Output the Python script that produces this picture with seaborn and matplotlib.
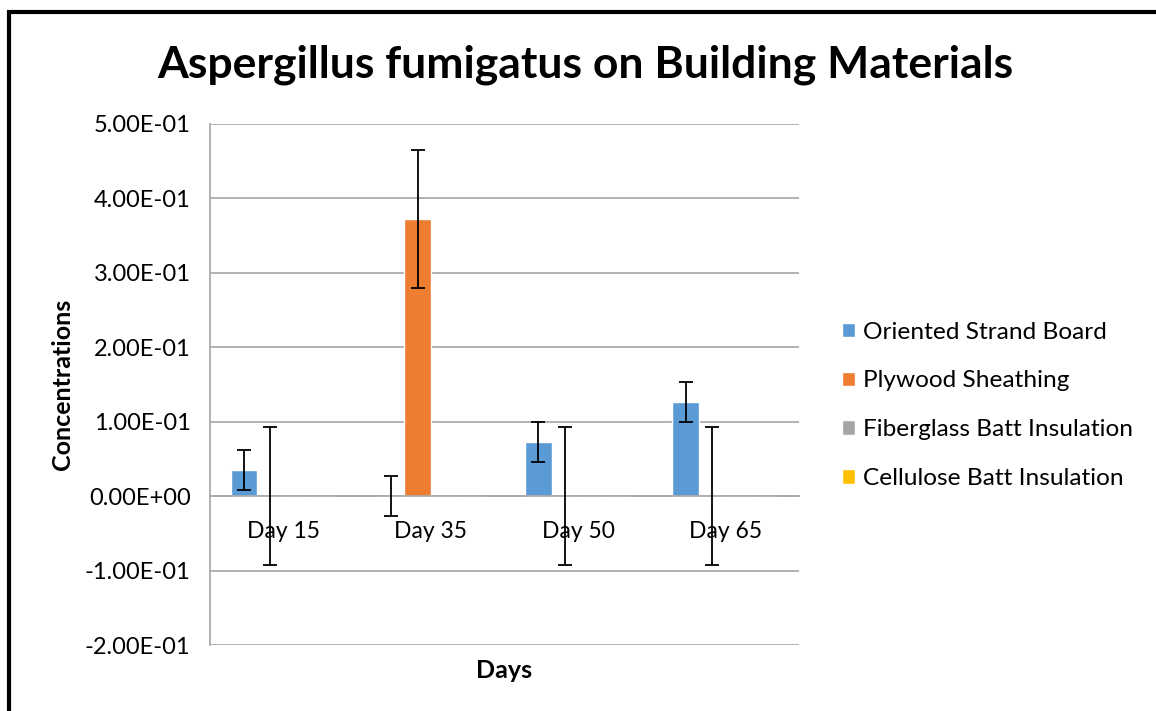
import matplotlib
matplotlib.use("Agg")
import matplotlib.pyplot as plt
from matplotlib.patches import Rectangle
from matplotlib.ticker import FixedLocator, FuncFormatter
import seaborn as sns
import pandas as pd
import numpy as np

days = ["Day 15", "Day 35", "Day 50", "Day 65"]
materials = ["Oriented Strand Board", "Plywood Sheathing",
             "Fiberglass Batt Insulation", "Cellulose Batt Insulation"]
osb = [0.035, 0.0, 0.073, 0.126]
plywood = [0.0, 0.372, 0.0, 0.0]
fiberglass = [0.0, 0.0, 0.0, 0.0]
cellulose = [0.0, 0.0, 0.0, 0.0]
osb_err = [0.027, 0.027, 0.027, 0.027]
plywood_err = [0.093, 0.093, 0.093, 0.093]
colors = ["#5B9BD5", "#ED7D31", "#A5A5A5", "#FFC000"]

series = [osb, plywood, fiberglass, cellulose]
errors = [osb_err, plywood_err, None, None]

rows = []
for m, vals in zip(materials, series):
    for d, v in zip(days, vals):
        rows.append({"Days": d, "Material": m, "Concentration": v})
df = pd.DataFrame(rows)

sns.set_style("white")
plt.rcParams["font.family"] = ["Lato", "DejaVu Sans"]
plt.rcParams["text.color"] = "black"
plt.rcParams["axes.labelcolor"] = "black"
plt.rcParams["xtick.labelcolor"] = "black"
plt.rcParams["ytick.labelcolor"] = "black"

fig = plt.figure(figsize=(11.56, 7.11), dpi=100)
ax = fig.add_axes([0.1817, 0.0928, 0.5095, 0.7328])

sns.barplot(data=df, x="Days", y="Concentration", hue="Material",
            hue_order=materials, order=days, palette=colors,
            errorbar=None, width=0.72, dodge=True, ax=ax, saturation=1)

# error bars from drawn bar positions
patches = [p for p in ax.patches]
n = len(days)
for si, (vals, err) in enumerate(zip(series, errors)):
    if err is None:
        continue
    bars = patches[si * n:(si + 1) * n]
    xs = [b.get_x() + b.get_width() / 2 for b in bars]
    ax.errorbar(xs, vals, yerr=err, fmt="none", ecolor="black",
                elinewidth=1.3, capsize=5, capthick=1.3, zorder=5)

ax.set_ylim(-0.2, 0.5)
ax.set_xlim(-0.5, 3.5)
ax.yaxis.set_major_locator(FixedLocator(np.arange(-0.2, 0.51, 0.1)))
ax.yaxis.set_major_formatter(FuncFormatter(lambda v, p: f"{v:.2E}"))
ax.grid(axis="y", color="#ABABAB", linewidth=1.3)
ax.set_axisbelow(True)

for s in ["top", "right"]:
    ax.spines[s].set_visible(False)
ax.spines["left"].set_color("#ABABAB")
ax.spines["left"].set_linewidth(1.3)
ax.spines["bottom"].set_position(("data", 0))
ax.spines["bottom"].set_color("#ABABAB")
ax.spines["bottom"].set_linewidth(1.3)

ax.xaxis.set_major_locator(FixedLocator([-0.5, 0.5, 1.5, 2.5, 3.5]))
ax.xaxis.set_major_formatter(FuncFormatter(lambda v, p: ""))
ax.xaxis.set_minor_locator(FixedLocator([0, 1, 2, 3]))
ax.xaxis.set_minor_formatter(FuncFormatter(lambda v, p: days[int(round(v))]))
ax.tick_params(axis="x", which="major", direction="out", length=7, width=1.3, color="#ABABAB")
ax.tick_params(axis="x", which="minor", length=0, pad=18, labelsize=16.5)
ax.tick_params(axis="y", direction="out", length=7, width=1.3, color="#ABABAB", labelsize=17, pad=7)

ax.set_xlabel("Days", fontsize=18, fontweight="bold")
ax.xaxis.set_label_coords(0.5, -0.027)
ax.set_ylabel("Concentrations", fontsize=18, fontweight="bold", va="center")
ax.yaxis.set_label_coords(-0.251, 0.5)

fig.text(0.506, 0.9086, "Aspergillus fumigatus on Building Materials", fontsize=32,
         fontweight="bold", ha="center", va="center")

leg = ax.legend(loc="center left", bbox_to_anchor=(1.056, 0.46), frameon=False,
                fontsize=17.6, handlelength=0.53, handleheight=0.53,
                handletextpad=0.34, labelspacing=1.14, borderaxespad=0)

fig.add_artist(Rectangle((0.0078, -0.2), 1.5, 1.183, transform=fig.transFigure,
                         fill=False, edgecolor="black", linewidth=3, clip_on=False))

fig.savefig("out.png", dpi=100)
